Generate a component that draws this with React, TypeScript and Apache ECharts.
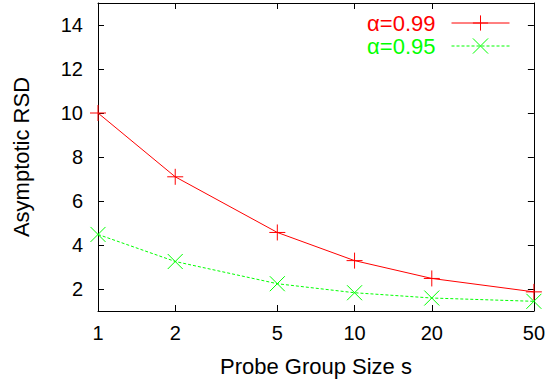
import React, { useEffect, useRef } from "react";
import * as echarts from "echarts";

const groupSizes = [1, 2, 5, 10, 20, 50];
const rsd099 = [10.0, 7.1, 4.57, 3.29, 2.48, 1.87];
const rsd095 = [4.48, 3.25, 2.24, 1.83, 1.59, 1.44];
const xTicks = [1, 2, 5, 10, 20, 50];
const yTicks = [2, 4, 6, 8, 10, 12, 14];
const seriesNames = ["α=0.99", "α=0.95"];

const FONT = "Liberation Sans, Arial, Helvetica, sans-serif";
const PLUS = "path://M0,8L16,8M8,0L8,16";
const CROSS = "path://M0,0L16,16M16,0L0,16";

export default function App() {
  const ref = useRef<HTMLDivElement>(null);
  useEffect(() => {
    if (!ref.current) return;
    const chart = echarts.init(ref.current, undefined, { renderer: "svg" });
    const axisLine = { show: true, onZero: false, lineStyle: { color: "#000", width: 1 } };
    const tickStyle = { show: true, inside: true, length: 6, lineStyle: { color: "#000", width: 1 } };
    const xBase = {
      type: "log" as const,
      logBase: 10,
      min: 1,
      max: 50,
      axisLine,
      splitLine: { show: false },
      minorTick: { show: false },
    };
    const yBase = {
      type: "value" as const,
      min: 1,
      max: 15,
      axisLine,
      splitLine: { show: false },
    };
    chart.setOption({
      animation: false,
      backgroundColor: "#fff",
      grid: { left: 98, right: 14, top: 3, bottom: 71, containLabel: false },
      legend: {
        orient: "vertical",
        right: 33,
        top: 7,
        align: "right",
        itemWidth: 58,
        itemHeight: 19,
        itemGap: 1,
        selectedMode: false,
        lineStyle: { width: 1 },
        itemStyle: { borderWidth: 1 },
        textStyle: { fontFamily: FONT, fontSize: 22, padding: [0, 11, 0, 0] },
        data: [
          { name: seriesNames[0], textStyle: { color: "#ff0000" } },
          { name: seriesNames[1], textStyle: { color: "#00ff00" } },
        ],
      },
      xAxis: [
        {
          ...xBase,
          position: "bottom",
          name: "Probe Group Size s",
          nameLocation: "middle",
          nameGap: 44,
          nameTextStyle: { fontFamily: FONT, fontSize: 22, color: "#000" },
          axisTick: { ...tickStyle, customValues: xTicks },
          axisLabel: {
            customValues: xTicks,
            fontFamily: FONT,
            fontSize: 20,
            color: "#000",
            margin: 12,
            formatter: (v: number) => String(Math.round(v)),
          },
        },
        {
          ...xBase,
          position: "top",
          axisTick: { ...tickStyle, customValues: xTicks },
          axisLabel: { show: false },
        },
      ],
      yAxis: [
        {
          ...yBase,
          position: "left",
          name: "Asymptotic RSD",
          nameLocation: "middle",
          nameGap: 66,
          nameTextStyle: { fontFamily: FONT, fontSize: 22, color: "#000" },
          axisTick: { ...tickStyle, customValues: yTicks },
          axisLabel: {
            customValues: yTicks,
            fontFamily: FONT,
            fontSize: 20,
            color: "#000",
            margin: 15,
          },
        },
        {
          ...yBase,
          position: "right",
          axisTick: { ...tickStyle, customValues: yTicks },
          axisLabel: { show: false },
        },
      ],
      series: [
        {
          name: seriesNames[0],
          type: "line",
          xAxisIndex: 0,
          yAxisIndex: 0,
          data: groupSizes.map((x, i) => [x, rsd099[i]]),
          symbol: PLUS,
          symbolSize: 16,
          showSymbol: true,
          silent: true,
          lineStyle: { color: "#ff0000", width: 1 },
          itemStyle: { color: "#ff0000", borderColor: "#ff0000", borderWidth: 1 },
          emphasis: { disabled: true },
        },
        {
          name: seriesNames[1],
          type: "line",
          xAxisIndex: 0,
          yAxisIndex: 0,
          data: groupSizes.map((x, i) => [x, rsd095[i]]),
          symbol: CROSS,
          symbolSize: 15,
          showSymbol: true,
          silent: true,
          lineStyle: { color: "#00ff00", width: 1, type: [3, 2] },
          itemStyle: { color: "#00ff00", borderColor: "#00ff00", borderWidth: 1 },
          emphasis: { disabled: true },
        },
      ],
    });
    return () => chart.dispose();
  }, []);
  return <div ref={ref} style={{ width: 548, height: 382, position: "absolute", left: 0, top: 0 }} />;
}
